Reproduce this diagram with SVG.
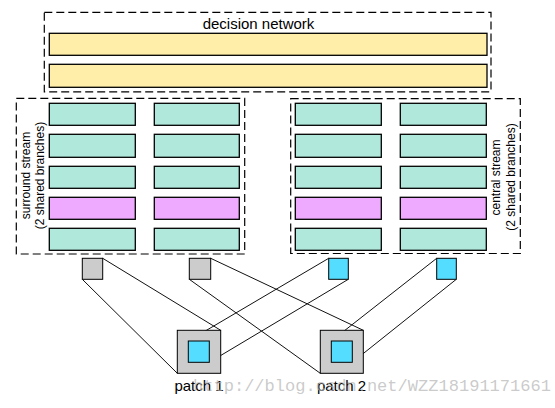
<svg xmlns="http://www.w3.org/2000/svg" width="555" height="408" viewBox="0 0 555 408">
<style>
.dash{fill:none;stroke:#000;stroke-width:1.2;stroke-dasharray:8,4}
.yel{fill:#ffeeaa;stroke:#000;stroke-width:1.3}
.teal{fill:#b0e8dc;stroke:#000;stroke-width:1.3}
.pink{fill:#eeaaff;stroke:#000;stroke-width:1.3}
.gray{fill:#cccccc;stroke:#000;stroke-width:1}
.cyan{fill:#55ddff;stroke:#000;stroke-width:1}
.lbl{font-family:"Liberation Sans",Arial,sans-serif;fill:#000}
.con{stroke:#111;stroke-width:1;fill:none}
</style>
<rect width="555" height="408" fill="#fff"/>
<g id="decision-network">
<rect class="dash" x="44.3" y="12.3" width="446.7" height="79.5"/>
<text class="lbl" x="258.5" y="28.5" font-size="15" text-anchor="middle">decision network</text>
<rect class="yel" x="49.3" y="33.3" width="437.7" height="22"/>
<rect class="yel" x="49.3" y="64.3" width="437.7" height="23"/>
</g>
<g id="surround-stream">
<rect class="dash" x="16.3" y="98.4" width="228.4" height="155.6"/>
<text class="lbl" font-size="12" text-anchor="middle" transform="translate(30,175.5) rotate(-90)">surround stream</text>
<text class="lbl" font-size="12" text-anchor="middle" transform="translate(44.3,175.5) rotate(-90)">(2 shared branches)</text>
<rect class="teal" x="49.3" y="103.3" width="86" height="22"/>
<rect class="teal" x="49.3" y="134.3" width="86" height="23"/>
<rect class="teal" x="49.3" y="166.3" width="86" height="22"/>
<rect class="pink" x="49.3" y="197.3" width="86" height="22"/>
<rect class="teal" x="49.3" y="228.3" width="86" height="22"/>
<rect class="teal" x="154.3" y="103.3" width="85" height="22"/>
<rect class="teal" x="154.3" y="134.3" width="85" height="23"/>
<rect class="teal" x="154.3" y="166.3" width="85" height="22"/>
<rect class="pink" x="154.3" y="197.3" width="85" height="22"/>
<rect class="teal" x="154.3" y="228.3" width="85" height="22"/>
</g>
<g id="central-stream">
<rect class="dash" x="290.7" y="98.6" width="229.6" height="154.9"/>
<text class="lbl" font-size="12" text-anchor="middle" transform="translate(500.3,177.5) rotate(-90)">central stream</text>
<text class="lbl" font-size="12" text-anchor="middle" transform="translate(514.6,177) rotate(-90)">(2 shared branches)</text>
<rect class="teal" x="295.3" y="103.3" width="86" height="22"/>
<rect class="teal" x="295.3" y="134.3" width="86" height="23"/>
<rect class="teal" x="295.3" y="166.3" width="86" height="22"/>
<rect class="pink" x="295.3" y="197.3" width="86" height="22"/>
<rect class="teal" x="295.3" y="228.3" width="86" height="22"/>
<rect class="teal" x="400.3" y="103.3" width="86" height="22"/>
<rect class="teal" x="400.3" y="134.3" width="86" height="23"/>
<rect class="teal" x="400.3" y="166.3" width="86" height="22"/>
<rect class="pink" x="400.3" y="197.3" width="86" height="22"/>
<rect class="teal" x="400.3" y="228.3" width="86" height="22"/>
</g>
<g id="inputs">
<rect id="surround-in-1" class="gray" x="82.3" y="258.3" width="20.4" height="21"/>
<rect id="surround-in-2" class="gray" x="189.3" y="258.3" width="21.4" height="21"/>
<rect id="central-in-1" class="cyan" x="328.7" y="258.3" width="19.6" height="21"/>
<rect id="central-in-2" class="cyan" x="436.7" y="258.3" width="19.6" height="21"/>
</g>
<g id="connectors">
<line class="con" x1="102.7" y1="258.3" x2="220.7" y2="330.3"/>
<line class="con" x1="82.3" y1="279.3" x2="177.3" y2="373.3"/>
<line class="con" x1="210.7" y1="258.3" x2="363.3" y2="330.3"/>
<line class="con" x1="189.3" y1="279.3" x2="320.3" y2="373.3"/>
<line class="con" x1="328.7" y1="258.3" x2="188.3" y2="341"/>
<line class="con" x1="348.3" y1="279.3" x2="209.3" y2="362.3"/>
<line class="con" x1="436.7" y1="258.3" x2="331.3" y2="341"/>
<line class="con" x1="456.3" y1="279.3" x2="352.3" y2="362.3"/>
</g>
<g id="patch-1">
<rect class="gray" x="177.3" y="330.3" width="43.4" height="43"/>
<rect class="cyan" x="188.3" y="341" width="21" height="21.3"/>
<text class="lbl" x="199" y="391" font-size="15" text-anchor="middle">patch 1</text>
</g>
<g id="patch-2">
<rect class="gray" x="320.3" y="330.3" width="43" height="43"/>
<rect class="cyan" x="331.3" y="341" width="21" height="21.3"/>
<text class="lbl" x="341.5" y="391" font-size="15" text-anchor="middle">patch 2</text>
</g>
<text x="193" y="391" font-family="Liberation Mono,monospace" font-size="17" textLength="358" lengthAdjust="spacingAndGlyphs" fill="#b4b4b4" fill-opacity="0.7">http://blog.csdn.net/WZZ18191171661</text>
</svg>
